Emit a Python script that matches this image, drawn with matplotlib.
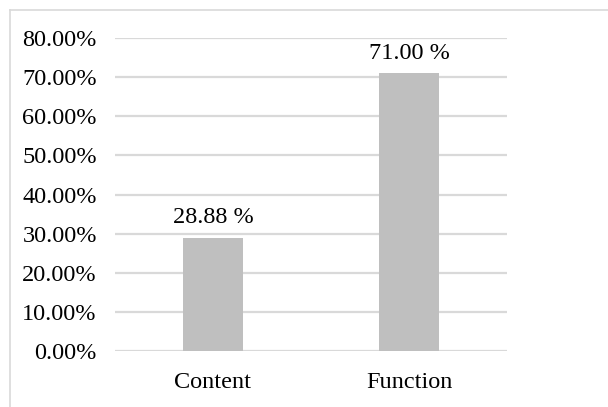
import matplotlib
matplotlib.use("Agg")
import matplotlib.pyplot as plt
from matplotlib.lines import Line2D

categories = ["Content", "Function"]
shares = [28.88, 71.00]
yticks = [0, 10, 20, 30, 40, 50, 60, 70, 80]

plt.rcParams['font.family'] = ['Liberation Serif', 'DejaVu Serif']

fig = plt.figure(figsize=(6.08, 4.07), dpi=100)
ax = fig.add_axes([0.189, 0.1376, 0.645, 0.769])

x = range(len(categories))
ax.bar(x, shares, width=0.31, color="#BFBFBF", zorder=3)

for xi, v in zip(x, shares):
    ax.annotate(f"{v:.2f} %", (xi, v), xytext=(0, 7), textcoords="offset points",
                ha="center", va="bottom", fontsize=17.5)

ax.set_xlim(-0.5, 1.5)
ax.set_ylim(0, 80)
ax.set_yticks(yticks)
ax.set_yticklabels([f"{t:.2f}%" for t in yticks], fontsize=17.5)
ax.set_xticks(list(x))
ax.set_xticklabels(categories, fontsize=17.5)
ax.tick_params(axis="y", length=0, pad=13)
ax.tick_params(axis="x", length=0, pad=15)
ax.yaxis.grid(True, color="#D9D9D9", linewidth=1.6, zorder=0)
for s in ax.spines.values():
    s.set_visible(False)

# outer chart frame (left and top edges)
fig.add_artist(Line2D([10 / 608, 10 / 608], [0, 1 - 10 / 407], color="#D9D9D9", linewidth=1.2))
fig.add_artist(Line2D([10 / 608, 1], [1 - 10 / 407, 1 - 10 / 407], color="#D9D9D9", linewidth=1.2))

fig.savefig("out.png", dpi=100)
